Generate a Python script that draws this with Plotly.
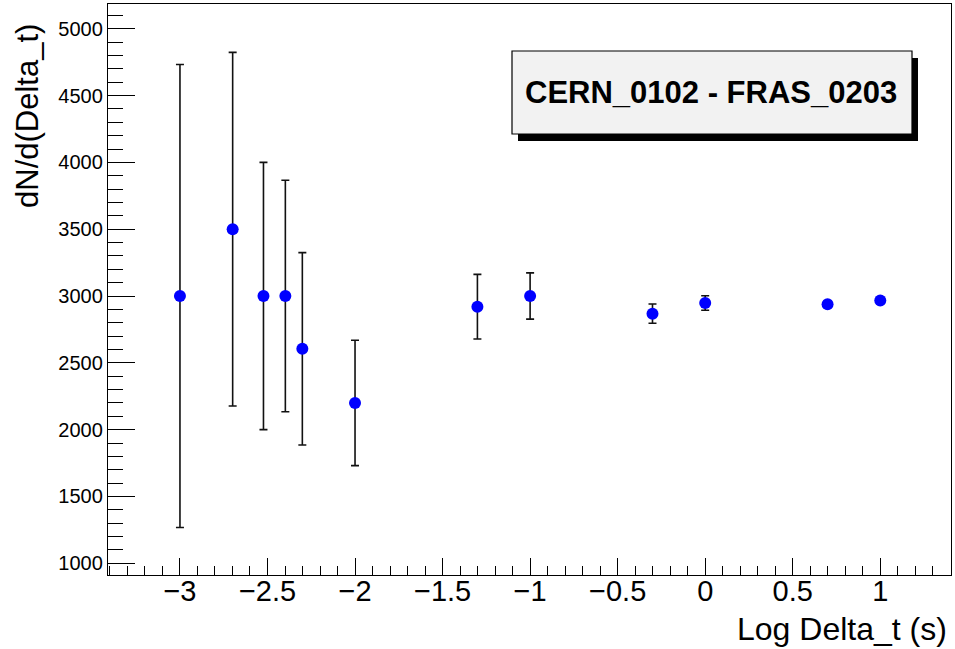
import plotly.graph_objects as go

# data (log10 of time difference in seconds)
log_dt = [-3.0, -2.699, -2.523, -2.398, -2.301, -2.0, -1.301, -1.0, -0.301, 0.0, 0.699, 1.0]
dn = [3000, 3500, 3000, 3000, 2605, 2200, 2920, 3000, 2868, 2948, 2938, 2966]
dn_err = [1732, 1323, 1000, 866, 720, 469, 242, 173, 72, 54, 18, 14]

title_text = "CERN_0102 - FRAS_0203"
x_title = "Log Delta_t (s)"
y_title = "dN/d(Delta_t)"

W, H = 955, 649
L, R, T, B = 108, 951, 4, 575
pw, ph = R - L, B - T


def px(x):
    return (x - L) / pw


def py(y):
    return (B - y) / ph


fig = go.Figure()
fig.add_trace(go.Scatter(
    x=log_dt, y=dn, mode="markers",
    marker=dict(color="#0000ff", size=12, line=dict(width=0)),
    error_y=dict(type="data", array=dn_err, visible=True,
                 color="#111111", thickness=1.6, width=4),
    showlegend=False, cliponaxis=False,
))

font = "Liberation Sans, Arial, sans-serif"

fig.update_layout(
    width=W, height=H,
    margin=dict(l=L, r=W - R, t=T, b=H - B),
    paper_bgcolor="white", plot_bgcolor="white",
    font=dict(family=font, color="black"),
    xaxis=dict(
        range=[-3.411, 1.404], tick0=0, dtick=0.5,
        showgrid=False, zeroline=False,
        showline=True, linecolor="black", linewidth=1.3, mirror=True,
        ticks="inside", ticklen=17, tickwidth=1.3, tickcolor="black",
        ticklabelstandoff=-10,
        tickfont=dict(size=29, family=font, color="black"),
        minor=dict(dtick=0.1, ticks="inside", ticklen=9, tickwidth=1.3,
                   tickcolor="black", showgrid=False),
    ),
    yaxis=dict(
        range=[912.5, 5185], tick0=1000, dtick=500,
        showgrid=False, zeroline=False,
        showline=True, linecolor="black", linewidth=1.3, mirror=True,
        ticks="inside", ticklen=27, tickwidth=1.3, tickcolor="black",
        tickfont=dict(size=20, family=font, color="black"),
        minor=dict(dtick=100, ticks="inside", ticklen=15, tickwidth=1.3,
                   tickcolor="black", showgrid=False),
    ),
    shapes=[
        dict(type="rect", xref="paper", yref="paper",
             x0=px(518), x1=px(918), y0=py(141), y1=py(58),
             fillcolor="black", line=dict(width=0), layer="above"),
        dict(type="rect", xref="paper", yref="paper",
             x0=px(512), x1=px(912), y0=py(134), y1=py(51),
             fillcolor="#f2f2f2", line=dict(color="black", width=1.2), layer="above"),
    ],
    annotations=[
        dict(text="<b>" + title_text + "</b>", xref="paper", yref="paper",
             x=px(711), y=py(92.5), xanchor="center", yanchor="middle",
             showarrow=False, font=dict(size=31, family=font, color="black")),
        dict(text=x_title, xref="paper", yref="paper",
             x=px(949), y=py(629), xanchor="right", yanchor="middle",
             showarrow=False, font=dict(size=32, family=font, color="black")),
        dict(text=y_title, xref="paper", yref="paper", textangle=-90,
             x=px(28), y=py(22), xanchor="center", yanchor="top",
             showarrow=False, font=dict(size=31, family=font, color="black")),
    ],
)

fig.write_html("out.html")
